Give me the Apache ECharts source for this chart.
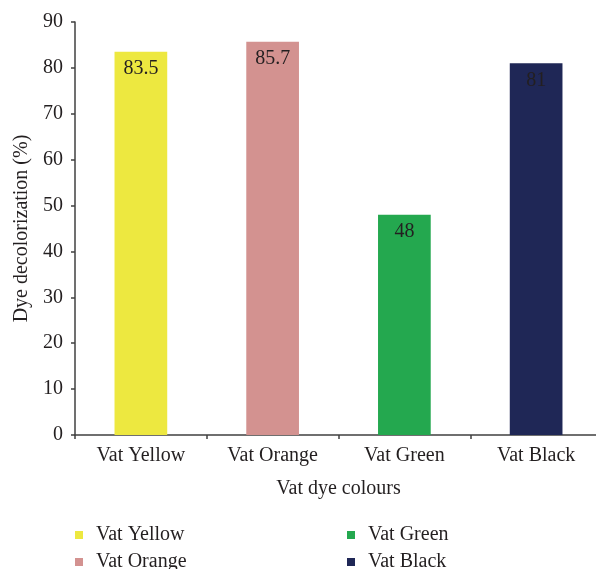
<!DOCTYPE html>
<html><head><meta charset="utf-8">
<script src="https://cdn.jsdelivr.net/npm/echarts@6/dist/echarts.min.js"></script>
<style>html,body{margin:0;padding:0;background:#fff}#c{width:596px;height:569px}</style>
</head><body><div id="c"></div>
<script>
const categories = ['Vat Yellow', 'Vat Orange', 'Vat Green', 'Vat Black'];
const values = [83.5, 85.7, 48, 81];
const colors = ['#EDE840', '#D39290', '#24A84F', '#1F2756'];
const yTicks = { min: 0, max: 90, interval: 10 };

const FONT = '"Liberation Serif", "DejaVu Serif", serif';
const TXT = '#231F20';
const FS = 20;

const series = categories.map((name, i) => ({
  name: name,
  type: 'bar',
  stack: 'all',
  barWidth: '40%',
  itemStyle: { color: colors[i] },
  label: {
    show: true, position: 'insideTop', distance: 7,
    color: TXT, fontFamily: FONT, fontSize: FS
  },
  data: categories.map((c, j) => j === i ? values[i] : '-')
}));

const legendPos = [[75, 525], [75, 552], [347, 525], [347, 552]];
const legends = categories.map((name, i) => ({
  left: legendPos[i][0], top: legendPos[i][1], padding: 0,
  itemWidth: 8, itemHeight: 8, icon: 'rect', itemGap: 0,
  textStyle: { fontFamily: FONT, fontSize: FS, color: TXT, padding: [0, 0, 0, 8] },
  data: [name]
}));

const chart = echarts.init(document.getElementById('c'), null, { renderer: 'canvas' });
chart.setOption({
  animation: false,
  textStyle: { fontFamily: FONT, color: TXT },
  grid: { left: 75, width: 527, top: 22, bottom: 134, containLabel: false, outerBoundsMode: 'none' },
  xAxis: {
    type: 'category', data: categories,
    name: 'Vat dye colours', nameLocation: 'middle', nameGap: 44,
    nameTextStyle: { fontFamily: FONT, fontSize: FS, color: TXT },
    axisLine: { lineStyle: { color: '#404040', width: 1.5 } },
    axisTick: { show: true, alignWithLabel: false, length: 4, lineStyle: { color: '#404040', width: 1.5 } },
    axisLabel: { fontFamily: FONT, fontSize: FS, color: TXT, margin: 11 }
  },
  yAxis: {
    type: 'value', min: yTicks.min, max: yTicks.max, interval: yTicks.interval,
    name: 'Dye decolorization (%)', nameLocation: 'middle', nameGap: 39,
    nameTextStyle: { fontFamily: FONT, fontSize: FS, color: TXT },
    axisLine: { show: true, lineStyle: { color: '#404040', width: 1.5 } },
    axisTick: { show: true, length: 4, lineStyle: { color: '#404040', width: 1.5 } },
    axisLabel: { fontFamily: FONT, fontSize: FS, color: TXT, margin: 12 },
    splitLine: { show: false }
  },
  legend: legends,
  series: series
});
</script></body></html>
